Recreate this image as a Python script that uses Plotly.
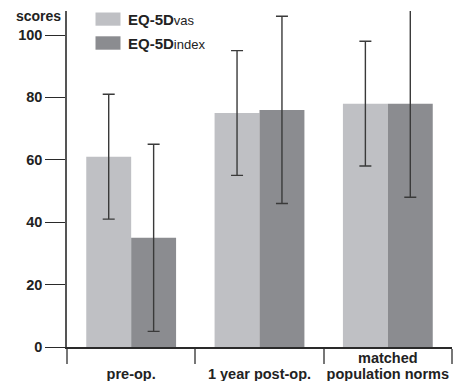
import plotly.graph_objects as go

# Chart data
categories = ["pre-op.", "1 year post-op.", "matched population norms"]
tick_labels = ["pre-op.", "1 year post-op.", "population norms"]
upper_label = ["", "", "matched"]
vas_means = [61, 75, 78]
vas_sd = [20, 20, 20]
index_means = [35, 76, 78]
index_sd = [30, 30, 30]
y_ticks = [0, 20, 40, 60, 80, 100]

W, H = 455, 381
ML, MR, MT, MB = 67, 3, 11, 34
FONT = "Liberation Sans"
TXT = "#222222"

err_style = dict(type="data", visible=True, color="#3a3a3a", thickness=1.4, width=6)

fig = go.Figure()
fig.add_trace(go.Bar(
    x=categories, y=vas_means, name="EQ-5Dvas",
    marker=dict(color="#bfc0c4", line=dict(width=0)),
    error_y=dict(array=vas_sd, **err_style),
    cliponaxis=False, showlegend=False,
))
fig.add_trace(go.Bar(
    x=categories, y=index_means, name="EQ-5Dindex",
    marker=dict(color="#8b8c90", line=dict(width=0)),
    error_y=dict(array=index_sd, **err_style),
    cliponaxis=False, showlegend=False,
))

plot_w = W - ML - MR
plot_h = H - MT - MB


def px_x(px):
    return (px - ML) / plot_w


def px_y(py):
    return (H - MB - py) / plot_h


# Hand-built legend: swatches plus labels
legend_items = [("#bfc0c4", "<b>EQ-5D</b><span style='font-size:13px'>vas</span>", 12.5, 25.7),
                ("#8b8c90", "<b>EQ-5D</b><span style='font-size:13px'>index</span>", 36.3, 49.7)]
for color, label, top, bottom in legend_items:
    fig.add_shape(type="rect", xref="paper", yref="paper",
                  x0=px_x(95.5), x1=px_x(120.5), y0=px_y(bottom), y1=px_y(top),
                  fillcolor=color, line=dict(width=0))
    fig.add_annotation(xref="paper", yref="paper", x=px_x(126), y=px_y((top + bottom) / 2 + 0.5),
                       xanchor="left", yanchor="middle", showarrow=False,
                       text=label, font=dict(family=FONT, size=15, color=TXT))

fig.add_annotation(xref="paper", yref="paper", x=px_x(63), y=px_y(16),
                   xanchor="right", yanchor="middle", showarrow=False,
                   text="<b>scores</b>", font=dict(family=FONT, size=14, color=TXT))

# First line of the two-line category label
for cat, txt in zip(categories, upper_label):
    if txt:
        fig.add_annotation(xref="x", yref="paper", x=cat, y=px_y(357.5),
                           xanchor="center", yanchor="middle", showarrow=False,
                           text=f"<b>{txt}</b>", font=dict(family=FONT, size=14.5, color=TXT))

fig.update_layout(
    width=W, height=H,
    margin=dict(l=ML, r=MR, t=MT, b=MB, pad=0, autoexpand=False),
    paper_bgcolor="white", plot_bgcolor="white",
    barmode="group", bargap=0.3, bargroupgap=0,
    font=dict(family=FONT, size=13, color=TXT),
    xaxis=dict(
        type="category", tickmode="array", tickvals=categories, ticktext=tick_labels,
        tickson="boundaries", ticks="outside", ticklen=15, tickwidth=2, tickcolor="#777777",
        showline=True, linecolor="#2a2a2a", linewidth=1.5, tickangle=0,
        ticklabelstandoff=13,
        showgrid=False, zeroline=False, automargin=False,
        tickfont=dict(family=FONT, size=14.5, color=TXT, weight="bold"),
        range=[-0.5, 2.5],
    ),
    yaxis=dict(
        range=[0, 107.7], tickmode="array", tickvals=y_ticks,
        ticks="outside", ticklen=20, tickwidth=1.3, tickcolor="#2a2a2a",
        showline=True, linecolor="#555555", linewidth=1.5,
        showgrid=False, zeroline=False, automargin=False,
        tickfont=dict(family=FONT, size=14.5, color=TXT, weight="bold"),
    ),
)

fig.write_html("out.html")
